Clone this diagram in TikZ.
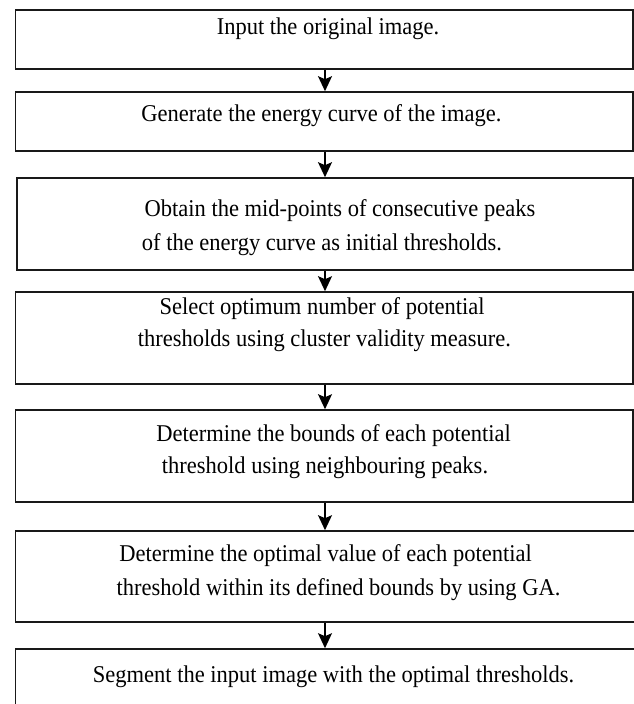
\documentclass[tikz,border=0pt]{standalone}
\usepackage{fontspec}
\usepackage{graphicx}
\setmainfont{Liberation Serif}
\usetikzlibrary{arrows.meta}
\newcommand{\tallt}[1]{\scalebox{1}[1.07]{#1}}
\begin{document}
\begin{tikzpicture}[x=1pt,y=-1pt,
  stepbox/.style={draw=black!90, line width=1.6pt, fill=none},
  txt/.style={anchor=base, inner sep=0pt, font=\fontsize{22.5}{33}\selectfont},
  conn/.style={line width=1.4pt, -{Stealth[length=15pt,width=14pt,inset=3pt]}}]
\useasboundingbox (0,0) rectangle (634,704);
\clip (0,0) rectangle (634,704);
% boxes
\node[stepbox, minimum width=617.5pt, minimum height=59pt,  inner sep=0pt] (b1) at (324.25,39.5) {};
\node[stepbox, minimum width=617.5pt, minimum height=59pt,  inner sep=0pt] (b2) at (324.25,121.5) {};
\node[stepbox, minimum width=616pt,   minimum height=92pt,  inner sep=0pt] (b3) at (325,224) {};
\node[stepbox, minimum width=617.5pt, minimum height=92pt,  inner sep=0pt] (b4) at (324.25,338) {};
\node[stepbox, minimum width=617.5pt, minimum height=92pt,  inner sep=0pt] (b5) at (324.25,456) {};
\node[stepbox, minimum width=626pt,   minimum height=91pt,  inner sep=0pt] (b6) at (328.5,576.5) {};
\node[stepbox, minimum width=626pt,   minimum height=90pt,  inner sep=0pt] (b7) at (328.5,694) {};
% texts
\node[txt] (t1)  at (328,34)  {\tallt{Input the original image.}};
\node[txt] (t2)  at (321.5,121.7) {\tallt{Generate the energy curve of the image.}};
\node[txt] (t3a) at (340,216.7) {\tallt{Obtain the mid-points of consecutive peaks}};
\node[txt] (t3b) at (322,250)   {\tallt{of the energy curve as initial thresholds.}};
\node[txt] (t4a) at (322,314)   {\tallt{Select optimum number of potential}};
\node[txt] (t4b) at (324.5,346.5) {\tallt{thresholds using cluster validity measure.}};
\node[txt] (t5a) at (333.6,441) {\tallt{Determine the bounds of each potential}};
\node[txt] (t5b) at (325,473.5) {\tallt{threshold using neighbouring peaks.}};
\node[txt] (t6a) at (325.6,561.7) {\tallt{Determine the optimal value of each potential}};
\node[txt] (t6b) at (338.6,595) {\tallt{threshold within its defined bounds by using GA.}};
\node[txt] (t7)  at (333.5,682) {\tallt{Segment the input image with the optimal thresholds.}};
% connectors
\draw[conn] (b1.south -| 325,0) -- (b2.north -| 325,0);
\draw[conn] (b2.south -| 325,0) -- (b3.north -| 325,0);
\draw[conn] (b3.south -| 325,0) -- (b4.north -| 325,0);
\draw[conn] (b4.south -| 325,0) -- (b5.north -| 325,0);
\draw[conn] (b5.south -| 325,0) -- (b6.north -| 325,0);
\draw[conn] (b6.south -| 325,0) -- (b7.north -| 325,0);
\end{tikzpicture}
\end{document}
